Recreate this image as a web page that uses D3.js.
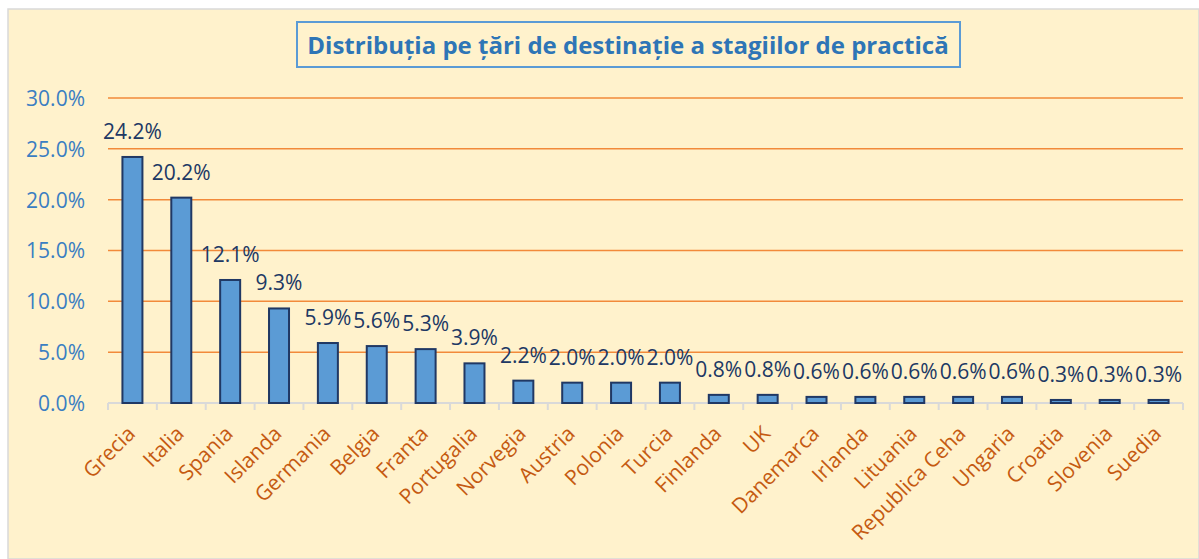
<!DOCTYPE html>
<html>
<head>
<meta charset="utf-8">
<script src="https://cdn.jsdelivr.net/npm/d3@7"></script>
<style>
  html, body { margin: 0; padding: 0; background: #ffffff; }
  svg { display: block; }
  text { font-family: "Open Sans", Lato, sans-serif; }
</style>
</head>
<body>
<svg id="chart" width="1199" height="559"></svg>
<script>
// Share of internships by destination country (%)
const countries = ["Grecia", "Italia", "Spania", "Islanda", "Germania", "Belgia", "Franta",
  "Portugalia", "Norvegia", "Austria", "Polonia", "Turcia", "Finlanda", "UK", "Danemarca",
  "Irlanda", "Lituania", "Republica Ceha", "Ungaria", "Croatia", "Slovenia", "Suedia"];
const shares = [24.2, 20.2, 12.1, 9.3, 5.9, 5.6, 5.3, 3.9, 2.2, 2.0, 2.0, 2.0, 0.8, 0.8,
  0.6, 0.6, 0.6, 0.6, 0.6, 0.3, 0.3, 0.3];
const yTicks = [0, 5, 10, 15, 20, 25, 30];
const chartTitle = "Distribuția pe țări de destinație a stagiilor de practică";

const svg = d3.select("#chart");

// chart area background
svg.append("rect")
  .attr("x", 8).attr("y", 9).attr("width", 1199 - 8).attr("height", 559 - 9)
  .attr("fill", "#FFF2CC")
  .attr("stroke", "#D9D9D9").attr("stroke-width", 1.5);

const plot = { left: 108, right: 1183, top: 98, bottom: 403 };

const x = d3.scaleBand().domain(countries).range([plot.left, plot.right]).paddingInner(0).paddingOuter(0);
const y = d3.scaleLinear().domain([0, 30]).range([plot.bottom, plot.top]);

// gridlines
svg.append("g").selectAll("line").data(yTicks.filter(d => d > 0)).join("line")
  .attr("x1", plot.left).attr("x2", plot.right)
  .attr("y1", d => y(d)).attr("y2", d => y(d))
  .attr("stroke", "#F28A3A").attr("stroke-width", 1.5);

// y axis labels
const yAxis = d3.axisLeft(y).tickValues(yTicks).tickSize(0).tickPadding(0)
  .tickFormat(d => d.toFixed(1) + "%");
const gy = svg.append("g").attr("transform", `translate(${plot.left - 23},0)`).call(yAxis);
gy.select(".domain").remove();
gy.selectAll("text")
  .attr("fill", "#3A7EC2").attr("font-size", 21).attr("font-family", "'Open Sans', sans-serif")
  .attr("dy", "0.35em");

// x axis baseline with boundary ticks
const gx = svg.append("g");
gx.append("line")
  .attr("x1", plot.left).attr("x2", plot.right)
  .attr("y1", plot.bottom).attr("y2", plot.bottom)
  .attr("stroke", "#D9D9D9").attr("stroke-width", 2);
const boundaries = countries.map(c => x(c)).concat([plot.right]);
gx.selectAll("line.tk").data(boundaries).join("line").attr("class", "tk")
  .attr("x1", d => d).attr("x2", d => d)
  .attr("y1", plot.bottom).attr("y2", plot.bottom + 7)
  .attr("stroke", "#D9D9D9").attr("stroke-width", 2);

// bars
const barW = 20;
svg.append("g").selectAll("rect").data(countries).join("rect")
  .attr("x", (d) => x(d) + x.bandwidth() / 2 - barW / 2)
  .attr("y", (d, i) => y(shares[i]))
  .attr("width", barW)
  .attr("height", (d, i) => y(0) - y(shares[i]))
  .attr("fill", "#5B9BD5")
  .attr("stroke", "#203864").attr("stroke-width", 2);

// value labels
svg.append("g").selectAll("text").data(countries).join("text")
  .attr("x", d => x(d) + x.bandwidth() / 2)
  .attr("y", (d, i) => y(shares[i]) - 18)
  .attr("text-anchor", "middle")
  .attr("fill", "#203864").attr("font-size", 21)
  .text((d, i) => shares[i].toFixed(1) + "%");

// category labels, rotated
svg.append("g").selectAll("text").data(countries).join("text")
  .attr("transform", d => `translate(${x(d) + x.bandwidth() / 2 + 4},${plot.bottom + 32}) rotate(-45)`)
  .attr("text-anchor", "end")
  .attr("fill", "#C55A11").attr("font-size", 21)
  .text(d => d);

// title in a framed box
const titleG = svg.append("g");
titleG.append("rect")
  .attr("x", 297).attr("y", 22).attr("width", 663).attr("height", 45)
  .attr("fill", "none").attr("stroke", "#5B9BD5").attr("stroke-width", 2);
titleG.append("text")
  .attr("x", 628).attr("y", 54)
  .attr("text-anchor", "middle")
  .attr("fill", "#2E75B6").attr("font-size", 24).attr("font-weight", "bold")
  .text(chartTitle);
</script>
</body>
</html>
